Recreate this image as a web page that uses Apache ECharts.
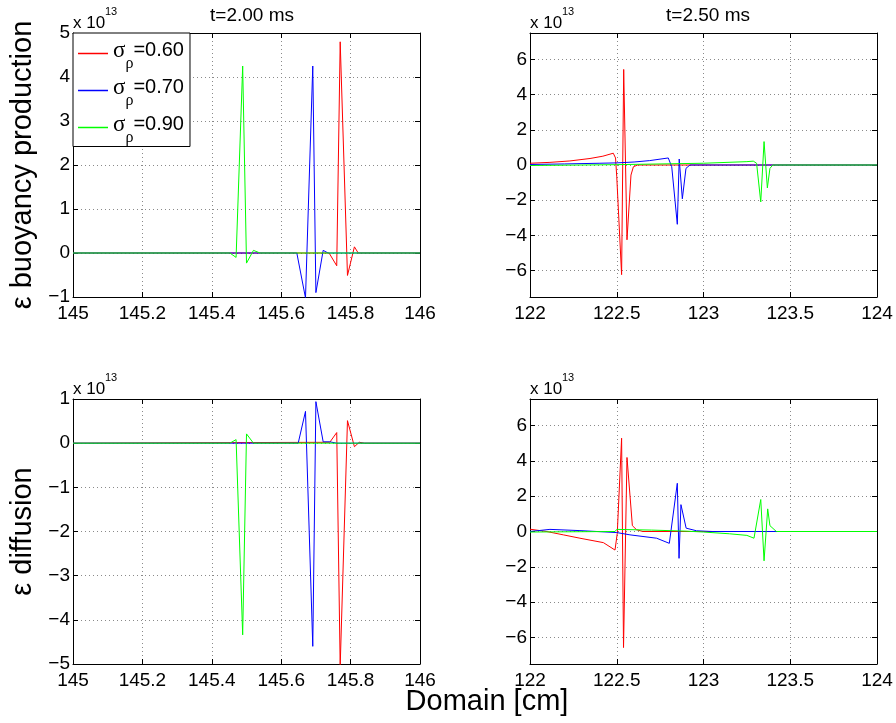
<!DOCTYPE html>
<html><head><meta charset="utf-8">
<script src="https://cdn.jsdelivr.net/npm/echarts@6/dist/echarts.min.js"></script>
<style>html,body{margin:0;padding:0;background:#fff}#c{width:896px;height:723px}</style>
</head><body><div id="c"></div>
<script>
// ---- labels ----
const seriesNames = ['0.60', '0.70', '0.90'];
const seriesColors = ['#ff0000', '#0000ff', '#00ff00'];
const titles = ['t=2.00 ms', 't=2.50 ms'];
const yLabels = ['\u03b5 buoyancy production', '\u03b5 diffusion'];
const xLabel = 'Domain [cm]';

// ---- tick values ----
const xTicks200 = [145, 145.2, 145.4, 145.6, 145.8, 146];
const xTicks250 = [122, 122.5, 123, 123.5, 124];
const yTicksBP200 = [-1, 0, 1, 2, 3, 4, 5];
const yTicksDF200 = [-5, -4, -3, -2, -1, 0, 1];
const yTicks250 = [-6, -4, -2, 0, 2, 4, 6];
const yRange250 = [-7.5, 7.5];

// ---- data (values x 1e13) ----
// buoyancy production, t = 2.00 ms
const bp200Red = [[145,0],[145.738,0],[145.760,-0.29],[145.770,4.80],[145.791,-0.51],[145.811,0.14],[145.822,0],[146,0]];
const bp200Blue = [[145,0],[145.645,0],[145.670,-1.02],[145.691,4.25],[145.700,-0.90],[145.721,0.06],[145.735,0],[146,0]];
const bp200Green = [[145,0],[145.452,0],[145.470,-0.10],[145.489,4.25],[145.500,-0.23],[145.520,0.06],[145.539,0],[146,0]];
// buoyancy production, t = 2.50 ms
const bp250Red = [[122,0.10],[122.115,0.15],[122.23,0.23],[122.346,0.37],[122.42,0.50],[122.48,0.67],[122.493,0.40],[122.50,-0.67],[122.528,-6.23],[122.540,5.43],[122.559,-4.25],[122.582,-0.57],[122.596,-0.10],[122.62,0],[124,0]];
const bp250Blue = [[122,0.03],[122.2,0.06],[122.403,0.10],[122.5,0.12],[122.6,0.17],[122.69,0.25],[122.797,0.40],[122.817,-0.10],[122.849,-3.37],[122.860,0.34],[122.878,-1.92],[122.899,-0.19],[122.922,0],[124,0]];
const bp250Green = [[122,-0.03],[122.5,0.02],[123.0,0.10],[123.25,0.19],[123.287,0.22],[123.306,0.10],[123.330,-2.10],[123.349,1.33],[123.368,-1.30],[123.383,-0.19],[123.40,0],[124,0]];
// diffusion, t = 2.00 ms
const df200Red = [[145,0],[145.740,0.02],[145.760,0.24],[145.770,-5.05],[145.791,0.51],[145.811,-0.08],[145.825,0.02],[145.840,0],[146,0]];
const df200Blue = [[145,0],[145.649,0],[145.670,0.72],[145.691,-4.60],[145.700,0.94],[145.721,0.03],[145.740,0.03],[145.760,0],[146,0]];
const df200Green = [[145,0],[145.452,0],[145.470,0.08],[145.489,-4.34],[145.500,0.21],[145.520,0],[146,0]];
// diffusion, t = 2.50 ms
const df250Red = [[122,0.13],[122.096,0],[122.192,-0.19],[122.288,-0.38],[122.423,-0.63],[122.490,-1.05],[122.503,-0.10],[122.528,5.28],[122.539,-6.57],[122.559,4.19],[122.590,0.33],[122.614,0.10],[122.65,0],[124,0]];
const df250Blue = [[122,0],[122.115,0.12],[122.288,0.05],[122.5,-0.06],[122.576,-0.19],[122.73,-0.38],[122.803,-0.67],[122.849,2.73],[122.859,-1.52],[122.870,1.52],[122.900,0.19],[122.96,0.04],[123.05,0],[124,0]];
const df250Green = [[122,-0.03],[122.49,0],[122.50,0.12],[122.7,0.08],[122.9,0.02],[123.0,-0.03],[123.15,-0.13],[123.25,-0.22],[123.291,-0.38],[123.330,1.81],[123.349,-1.66],[123.370,1.28],[123.383,0.33],[123.42,0],[124,0]];

// ---- layout ----
const FONT = 'Liberation Sans';
const grids = [
  {left: 73, top: 33, width: 347, height: 264},
  {left: 530, top: 33, width: 347, height: 264},
  {left: 73, top: 399, width: 347, height: 265},
  {left: 530, top: 399, width: 347, height: 265}
];
const panelData = [
  [bp200Red, bp200Blue, bp200Green],
  [bp250Red, bp250Blue, bp250Green],
  [df200Red, df200Blue, df200Green],
  [df250Red, df250Blue, df250Green]
];
const panelX = [xTicks200, xTicks250, xTicks200, xTicks250];
const panelY = [yTicksBP200, null, yTicksDF200, null];

const r6 = v => Math.round(v * 1e6) / 1e6;
const minus = v => String(r6(v)).replace('-', '\u2212');
const axisLine = {show: true, onZero: false, lineStyle: {color: '#000', width: 1}};
const axisTick = {show: true, inside: true, length: 5, lineStyle: {color: '#000', width: 1}};
const splitLine = {show: true, lineStyle: {color: '#8a8a8a', width: 1, type: [1, 3]}};

function xBase(p) {
  const xt = panelX[p];
  return {type: 'value', gridIndex: p, min: xt[0], max: xt[xt.length - 1], interval: r6(xt[1] - xt[0])};
}
const xAxis = [], yAxis = [];
for (let p = 0; p < 4; p++) {
  const xt = panelX[p];
  xAxis.push(Object.assign(xBase(p), {
    position: 'bottom', axisLine, axisTick, splitLine,
    axisLabel: {color: '#000', fontSize: 19, fontFamily: FONT, margin: 7,
      formatter: v => String(r6(v))}
  }));
}
for (let p = 0; p < 4; p++) {
  xAxis.push(Object.assign(xBase(p), {
    position: 'top', axisLine, axisTick, axisLabel: {show: false}, splitLine: {show: false}}));
}
function yBase(p) {
  const yt = panelY[p];
  if (yt) return {type: 'value', gridIndex: p, min: yt[0], max: yt[yt.length - 1], interval: r6(yt[1] - yt[0])};
  return {type: 'value', gridIndex: p, min: yRange250[0], max: yRange250[1], splitNumber: 8};
}
for (let p = 0; p < 4; p++) {
  const yt = panelY[p] || yTicks250;
  const ax = Object.assign(yBase(p), {
    position: 'left', axisLine, axisTick, splitLine,
    axisLabel: {color: '#000', fontSize: 19, fontFamily: FONT, margin: 3,
      formatter: v => (yt.indexOf(r6(v)) >= 0 ? minus(v) : '')}
  });
  if (p === 0 || p === 2) {
    ax.name = yLabels[p === 0 ? 0 : 1];
    ax.nameLocation = 'middle';
    ax.nameRotate = 90;
    ax.nameGap = 36;
    ax.nameTextStyle = {color: '#000', fontSize: 29, fontFamily: FONT};
  }
  yAxis.push(ax);
}
for (let p = 0; p < 4; p++) {
  yAxis.push(Object.assign(yBase(p), {position: 'right', axisLine, axisTick,
    axisLabel: {show: false}, splitLine: {show: false}}));
}

const series = [];
for (let p = 0; p < 4; p++) {
  for (let s = 0; s < 3; s++) {
    series.push({
      type: 'line', name: seriesNames[s], xAxisIndex: p, yAxisIndex: p,
      data: panelData[p][s], symbol: 'none', showSymbol: false, clip: true,
      lineStyle: {color: seriesColors[s], width: 1}, itemStyle: {color: seriesColors[s]},
      z: 2 + s, silent: true
    });
  }
}

const graphic = [];
grids.forEach(g => {
  graphic.push({type: 'text', x: g.left, y: g.top - 10,
    style: {text: 'x 10', font: '17px "' + FONT + '"', fill: '#000', verticalAlign: 'middle', align: 'left'}});
  graphic.push({type: 'text', x: g.left + 32, y: g.top - 21,
    style: {text: '13', font: '11px "' + FONT + '"', fill: '#000', verticalAlign: 'middle', align: 'left'}});
});
graphic.push({type: 'text', x: 487, y: 702,
  style: {text: xLabel, font: '29px "' + FONT + '"', fill: '#000', verticalAlign: 'middle', align: 'center'}});

const option = {
  animation: false,
  backgroundColor: '#fff',
  textStyle: {fontFamily: FONT},
  title: [
    {text: titles[0], left: 247, top: 1, textAlign: 'center', textStyle: {fontSize: 19, fontWeight: 'normal', color: '#000', fontFamily: FONT}},
    {text: titles[1], left: 703, top: 1, textAlign: 'center', textStyle: {fontSize: 19, fontWeight: 'normal', color: '#000', fontFamily: FONT}}
  ],
  legend: {
    orient: 'vertical', left: 73, top: 33, data: seriesNames,
    icon: 'rect', itemWidth: 30, itemHeight: 1.5, itemGap: 4.5,
    padding: [6, 6, 1, 5], backgroundColor: '#fff', borderColor: '#000', borderWidth: 1, borderRadius: 0,
    selectedMode: false,
    formatter: n => '{s|\u03c3}{r|\u03c1}{t|=' + n + '}',
    textStyle: {
      color: '#000',
      rich: {
        s: {fontFamily: 'Liberation Serif', fontSize: 23, color: '#000', padding: [0, 0, 6, 0]},
        r: {fontFamily: 'Liberation Serif', fontSize: 16, color: '#000', padding: [20, 0, 0, 0]},
        t: {fontFamily: FONT, fontSize: 20, color: '#000', padding: [0, 0, 6, 0]}
      }
    }
  },
  grid: grids.map(g => Object.assign({containLabel: false}, g)),
  xAxis, yAxis, series, graphic
};
const chart = echarts.init(document.getElementById('c'), null, {renderer: 'canvas'});
chart.setOption(option);
</script></body></html>
